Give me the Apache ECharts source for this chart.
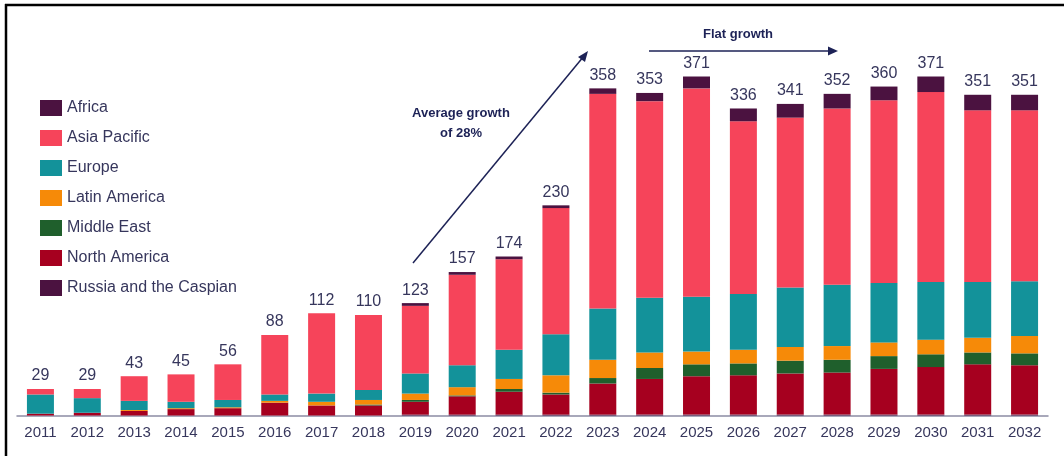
<!DOCTYPE html>
<html>
<head>
<meta charset="utf-8">
<script src="https://cdn.jsdelivr.net/npm/echarts@6/dist/echarts.min.js"></script>
<style>
html,body{margin:0;padding:0;background:#fff;}
#chart{width:1064px;height:456px;}
</style>
</head>
<body>
<div id="chart"></div>
<script>
// ---- data ----
const years = ['2011','2012','2013','2014','2015','2016','2017','2018','2019','2020','2021','2022','2023','2024','2025','2026','2027','2028','2029','2030','2031','2032'];
const totals = [29,29,43,45,56,88,112,110,123,157,174,230,358,353,371,336,341,352,360,371,351,351];
const russia       = [0,0,0,0,0,0,0,0,1,1,1,1,1,1,1,1,1,1,1,1,1,1];
const northAmerica = [2,3,5,7,8,14,11,11,14,20,25,22,34,39,42,43,45,46,50,52,55,54];
const middleEast   = [0,0,0,0,0,0,0,1,2,1,3,2,6,12,13,13,14,14,14,14,13,13];
const latinAmerica = [0,0,1,1,1,2,4,5,7,9,11,19,20,17,14,15,15,15,15,16,16,19];
const europe       = [21,16,10,7,8,7,9,11,22,24,32,45,56,60,60,61,65,67,65,63,61,60];
const asiaPacific  = [6,10,27,30,39,65,88,82,74,99,99,138,235,215,228,189,186,193,200,208,188,187];
const africa       = [0,0,0,0,0,0,0,0,3,3,3,3,6,9,13,14,15,16,15,17,17,17];
const legendNames = ['Africa','Asia Pacific','Europe','Latin America','Middle East','North America','Russia and the Caspian'];

const C = {
  'Africa':'#4b1240',
  'Asia Pacific':'#f6445a',
  'Europe':'#13929a',
  'Latin America':'#f68a08',
  'Middle East':'#1f5f2c',
  'North America':'#a6001f',
  'Russia and the Caspian':'#4b1240'
};
const txt = '#36365c';
const navy = '#1d2256';

function bar(name, data, extra){
  return Object.assign({
    name: name, type:'bar', stack:'t', data: data, barWidth: 27,
    itemStyle:{color:C[name]}, emphasis:{disabled:true}
  }, extra||{});
}

const chart = echarts.init(document.getElementById('chart'), null, {renderer:'canvas'});
chart.setOption({
  animation:false,
  backgroundColor:'#ffffff',
  grid:{left:17, right:16, top:50, bottom:40.5},
  legend:{
    data: legendNames, orient:'vertical', left:35, top:95,
    icon:'rect', itemWidth:22, itemHeight:16, itemGap:14,
    textStyle:{color:txt, fontSize:16, fontFamily:'Liberation Sans, Arial, sans-serif'},
    selectedMode:false
  },
  xAxis:{
    type:'category', data: years,
    axisLine:{lineStyle:{color:'#8c8ca4', width:1.5}},
    axisTick:{show:false},
    axisLabel:{color:txt, fontSize:15, margin:10, fontFamily:'Liberation Sans, Arial, sans-serif'}
  },
  yAxis:{type:'value', min:0, max:400, show:false, splitLine:{show:false}},
  series:[
    bar('Russia and the Caspian', russia),
    bar('North America', northAmerica),
    bar('Middle East', middleEast),
    bar('Latin America', latinAmerica),
    bar('Europe', europe),
    bar('Asia Pacific', asiaPacific),
    bar('Africa', africa, {
      label:{show:true, position:'top', distance:5, color:txt, fontSize:16,
        fontFamily:'Liberation Sans, Arial, sans-serif',
        formatter: p => String(totals[p.dataIndex])}
    })
  ],
  graphic:[
    // frame
    {type:'line', shape:{x1:6, y1:4, x2:6, y2:456}, style:{stroke:'#000', lineWidth:2.5}},
    {type:'line', shape:{x1:5, y1:5, x2:1064, y2:5}, style:{stroke:'#000', lineWidth:2.5}},
    // growth arrow
    {type:'line', shape:{x1:413, y1:263, x2:584, y2:56}, style:{stroke:navy, lineWidth:1.5}},
    {type:'polygon', shape:{points:[[588,51],[578,57],[585,62]]}, style:{fill:navy}},
    {type:'text', x:461, y:113, style:{text:'Average growth', fill:navy, font:'bold 13px Liberation Sans, Arial, sans-serif', textAlign:'center', textVerticalAlign:'middle'}},
    {type:'text', x:461, y:133, style:{text:'of 28%', fill:navy, font:'bold 13px Liberation Sans, Arial, sans-serif', textAlign:'center', textVerticalAlign:'middle'}},
    // flat arrow
    {type:'line', shape:{x1:649, y1:51, x2:830, y2:51}, style:{stroke:navy, lineWidth:1.5}},
    {type:'polygon', shape:{points:[[838,51],[828,46.5],[828,55.5]]}, style:{fill:navy}},
    {type:'text', x:738, y:34, style:{text:'Flat growth', fill:navy, font:'bold 13px Liberation Sans, Arial, sans-serif', textAlign:'center', textVerticalAlign:'middle'}}
  ]
});
</script>
</body>
</html>
